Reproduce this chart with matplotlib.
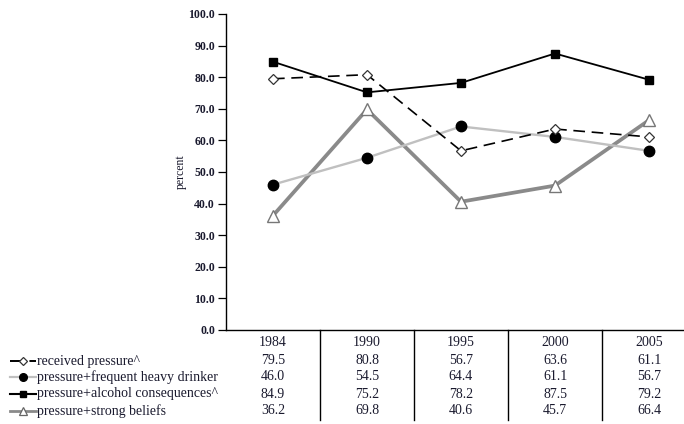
import matplotlib
matplotlib.use("Agg")
import matplotlib.pyplot as plt
from matplotlib.lines import Line2D

years = ["1984", "1990", "1995", "2000", "2005"]
received = [79.5, 80.8, 56.7, 63.6, 61.1]
heavy = [46.0, 54.5, 64.4, 61.1, 56.7]
consequences = [84.9, 75.2, 78.2, 87.5, 79.2]
beliefs = [36.2, 69.8, 40.6, 45.7, 66.4]
labels = ["received pressure^", "pressure+frequent heavy drinker",
          "pressure+alcohol consequences^", "pressure+strong beliefs"]
yticks = [0, 10, 20, 30, 40, 50, 60, 70, 80, 90, 100]

W, H = 684, 424
fig = plt.figure(figsize=(W / 100, H / 100), dpi=100)
FONT = "Liberation Serif"
TXT = "#1a1a2e"

x0, x1, ytop, ybot = 226, 696, 14, 330
ax = fig.add_axes([x0 / W, 1 - ybot / H, (x1 - x0) / W, (ybot - ytop) / H])
ax.set_xlim(0, 5)
ax.set_ylim(0, 100)
xs = [i + 0.5 for i in range(len(years))]

styles = [
    dict(color="black", lw=1.2, ls=(0, (7, 4)), marker="D", ms=5.5, mfc="white", mec="#333333", mew=0.9),
    dict(color="#c0c0c0", lw=1.7, ls="-", marker="o", ms=7.5, mfc="black", mec="black"),
    dict(color="black", lw=1.3, ls="-", marker="s", ms=5.5, mfc="black", mec="black"),
    dict(color="#8a8a8a", lw=2.7, ls="-", marker="^", ms=8.5, mfc="white", mec="#777777", mew=1.0),
]
series = [received, heavy, consequences, beliefs]
zorders = [3, 2, 4, 1]
for vals, st, z in zip(series, styles, zorders):
    ax.plot(xs, vals, zorder=z, clip_on=False, **st)

for s in ["top", "right"]:
    ax.spines[s].set_visible(False)
ax.spines["left"].set_linewidth(1.0)
ax.spines["bottom"].set_linewidth(1.0)
ax.set_yticks(yticks)
ax.set_yticklabels([f"{v:.1f}" for v in yticks], fontfamily=FONT, fontsize=8.5,
                   fontweight="bold", color=TXT)
ax.tick_params(axis="y", length=6, width=0.9, direction="out", pad=2)
ax.set_xticks([])
ax.set_ylabel("percent", fontfamily=FONT, fontsize=8.5, color=TXT, labelpad=1)

# table
for i in range(1, 5):
    fig.add_artist(Line2D([(x0 + i * 94) / W] * 2, [1 - 330 / H, 1 - 420 / H],
                          color="black", lw=1.0))
row_y = [343, 361, 377, 394, 411]
for i, yr in enumerate(years):
    cx = (x0 + 47 + i * 94) / W
    fig.text(cx, 1 - row_y[0] / H, yr, ha="center", va="center", fontfamily=FONT,
             fontsize=10, color=TXT)
    for r, vals in enumerate(series):
        fig.text(cx, 1 - row_y[r + 1] / H, f"{vals[i]:.1f}", ha="center", va="center",
                 fontfamily=FONT, fontsize=10, color=TXT)

leg_styles = [
    dict(color="black", lw=1.4, ls=(0, (7, 3)), marker="D", ms=4, mfc="white", mec="#333333", mew=0.9),
    dict(color="#c0c0c0", lw=1.6, ls="-", marker="o", ms=5.5, mfc="black", mec="black"),
    dict(color="black", lw=1.5, ls="-", marker="s", ms=4.5, mfc="black", mec="black"),
    dict(color="#8a8a8a", lw=2.0, ls="-", marker="^", ms=5.5, mfc="white", mec="#666666", mew=0.9),
]
mkeys = ("marker", "ms", "mfc", "mec", "mew")
for r, (lab, st) in enumerate(zip(labels, leg_styles)):
    yy = 1 - row_y[r + 1] / H
    fig.add_artist(Line2D([10 / W, 36 / W], [yy, yy],
                          **{k: v for k, v in st.items() if k not in mkeys}))
    fig.add_artist(Line2D([23 / W], [yy], ls="none",
                          **{k: v for k, v in st.items() if k in mkeys}))
    fig.text(37 / W, yy, lab, ha="left", va="center", fontfamily=FONT, fontsize=10, color=TXT)

fig.savefig("out.png", dpi=100)
